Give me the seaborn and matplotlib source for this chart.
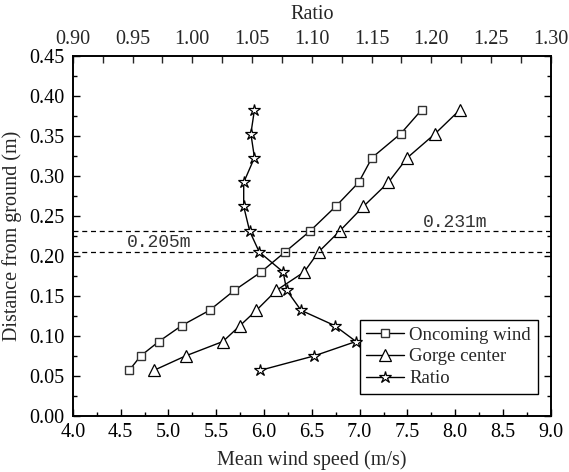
import matplotlib
matplotlib.use("Agg")
import matplotlib.pyplot as plt
from matplotlib.ticker import MultipleLocator
import seaborn as sns
import pandas as pd

height = [0.057, 0.075, 0.093, 0.113, 0.132, 0.157, 0.180, 0.205, 0.231, 0.262, 0.292, 0.323, 0.353, 0.383]
oncoming = [4.59, 4.71, 4.90, 5.14, 5.43, 5.69, 5.97, 6.22, 6.48, 6.75, 6.99, 7.13, 7.43, 7.65]
gorge = [4.85, 5.18, 5.57, 5.75, 5.92, 6.13, 6.42, 6.57, 6.79, 7.04, 7.30, 7.50, 7.79, 8.05]
ratio = [1.057, 1.102, 1.137, 1.119, 1.091, 1.079, 1.076, 1.056, 1.048, 1.043, 1.043, 1.052, 1.049, 1.052]
ref_heights = [0.231, 0.205]
ref_labels = ["0.231m", "0.205m"]

sns.set_theme(style="ticks")
plt.rcParams["font.family"] = ["Liberation Serif", "DejaVu Serif"]
plt.rcParams["mathtext.fontset"] = "stix"

df = pd.DataFrame({"height": height, "oncoming": oncoming, "gorge": gorge, "ratio": ratio})

fig = plt.figure(figsize=(5.69, 4.72), dpi=100)
ax = fig.add_axes([0.128, 0.119, 0.840, 0.762])

sns.lineplot(data=df, x="oncoming", y="height", sort=False, estimator=None, ax=ax,
             color="black", lw=1.0, marker="s", markersize=5.5, markerfacecolor="white",
             markeredgecolor="#333333", markeredgewidth=1.0, label="Oncoming wind", legend=False)
sns.lineplot(data=df, x="gorge", y="height", sort=False, estimator=None, ax=ax,
             color="black", lw=1.0, marker="^", markersize=8, markerfacecolor="white",
             markeredgecolor="black", markeredgewidth=0.9, label="Gorge center", legend=False)

ax2 = ax.twiny()
sns.lineplot(data=df, x="ratio", y="height", sort=False, estimator=None, ax=ax2,
             color="black", lw=1.0, marker="*", markersize=9, markerfacecolor="white",
             markeredgecolor="black", markeredgewidth=0.9, label="Ratio", legend=False)

for h in ref_heights:
    ax.axhline(h, color="black", lw=0.9, ls=(0, (4, 3)))
ax.text(8.0, 0.2415, ref_labels[0], ha="center", va="center", fontsize=13,
        family=["Liberation Mono", "DejaVu Sans Mono"], color="#333333")
ax.text(4.9, 0.2165, ref_labels[1], ha="center", va="center", fontsize=13,
        family=["Liberation Mono", "DejaVu Sans Mono"], color="#333333")

ax.set_xlim(4.0, 9.0)
ax.set_ylim(0.0, 0.45)
ax2.set_xlim(0.90, 1.30)
ax2.set_ylim(0.0, 0.45)

ax.xaxis.set_major_locator(MultipleLocator(0.5))
ax.xaxis.set_minor_locator(MultipleLocator(0.25))
ax.yaxis.set_major_locator(MultipleLocator(0.05))
ax.yaxis.set_minor_locator(MultipleLocator(0.025))
ax2.xaxis.set_major_locator(MultipleLocator(0.05))
ax2.xaxis.set_minor_locator(MultipleLocator(0.025))
ax.xaxis.set_major_formatter(plt.FormatStrFormatter("%.1f"))
ax.yaxis.set_major_formatter(plt.FormatStrFormatter("%.2f"))
ax2.xaxis.set_major_formatter(plt.FormatStrFormatter("%.2f"))

ax.tick_params(axis="both", which="both", direction="in", labelsize=14.5, width=1.0,
               right=True, colors="black")
ax.tick_params(axis="x", which="both", top=False)
ax.tick_params(which="major", length=5)
ax.tick_params(which="minor", length=3)
ax.tick_params(axis="x", which="major", pad=5)
ax.tick_params(axis="y", which="major", pad=6)
ax2.tick_params(axis="x", which="both", direction="in", labelsize=14.5, width=1.0, length=5, pad=5)

ax.set_xlabel("Mean wind speed (m/s)", fontsize=14.5, labelpad=6)
ax.set_ylabel("Distance from ground (m)", fontsize=14.5, labelpad=5)
ax2.set_xlabel("Ratio", fontsize=14.5, labelpad=8)
ax2.set_ylabel("")

for a in (ax, ax2):
    for s in a.spines.values():
        s.set_color("black")
        s.set_linewidth(1.2)

h1 = ax.get_lines()[0]
h2 = ax.get_lines()[1]
h3 = ax2.get_lines()[0]
leg = ax.legend([h1, h2, h3], ["Oncoming wind", "Gorge center", "Ratio"],
                loc="lower right", bbox_to_anchor=(0.992, 0.035), fontsize=13.5,
                frameon=True, fancybox=False, edgecolor="black", framealpha=1,
                handlelength=2.0, handletextpad=0.3, labelspacing=0.25, borderpad=0.35)
leg.get_frame().set_linewidth(1.0)

fig.savefig("out.png", dpi=100)
